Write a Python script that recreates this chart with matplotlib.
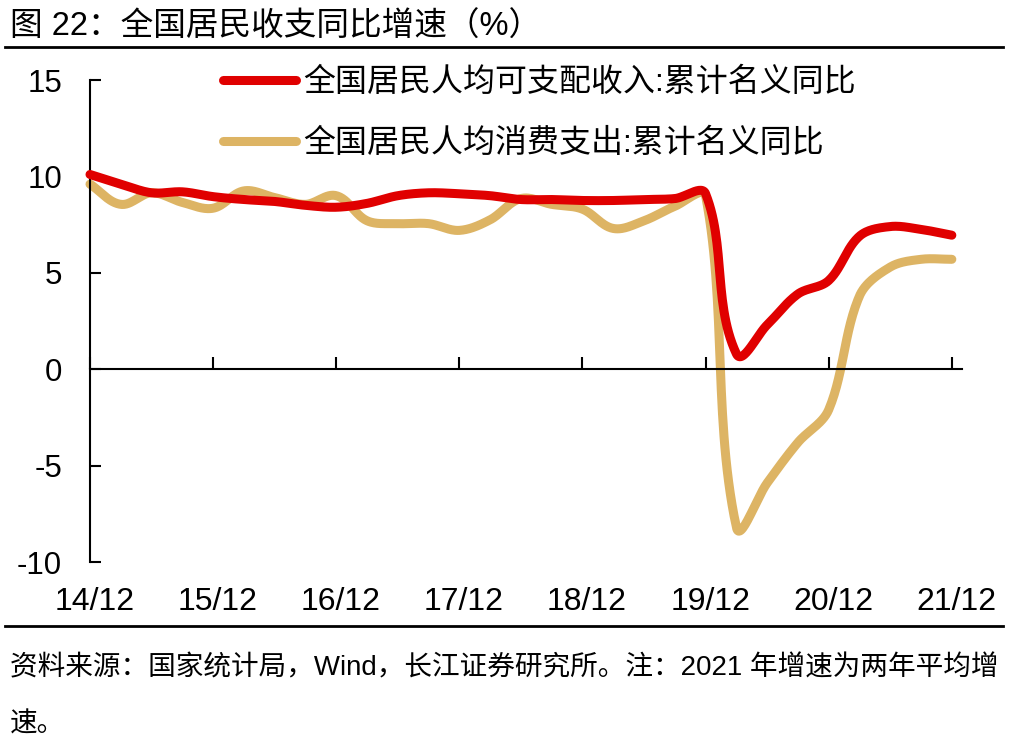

# ===========================================================================
# =                            Imports
# ===========================================================================
import numpy as np
import matplotlib
matplotlib.use("Agg")
import matplotlib.pyplot as plt
from matplotlib.lines import Line2D

plt.rcParams['font.family'] = ['Liberation Sans', 'Noto Sans CJK SC', 'DejaVu Sans']
plt.rcParams['axes.unicode_minus'] = False

# ===========================================================================
# =                              Data
# ===========================================================================
# Trimestral, de 14/12 a 21/12 (29 puntos)
tick_labels = ['14/12', '15/12', '16/12', '17/12', '18/12', '19/12', '20/12', '21/12']

ingreso = [10.1, 9.6, 9.15, 9.2, 8.95,
           8.8, 8.7, 8.5, 8.4,
           8.6, 9.0, 9.15, 9.1,
           9.0, 8.8, 8.8, 8.75,
           8.75, 8.8, 8.85, 9.1,
           0.8, 2.3, 3.9, 4.6,
           6.9, 7.4, 7.25, 6.95]

consumo = [9.6, 8.55, 9.15, 8.65, 8.35,
           9.25, 8.9, 8.55, 9.0,
           7.7, 7.55, 7.55, 7.2,
           7.75, 8.85, 8.55, 8.3,
           7.3, 7.7, 8.45, 9.0,
           -8.2, -5.9, -3.8, -2.1,
           3.8, 5.3, 5.7, 5.7]

nombre_ingreso = '全国居民人均可支配收入:累计名义同比'
nombre_consumo = '全国居民人均消费支出:累计名义同比'

titulo = '图 22：全国居民收支同比增速（%）'
fuente_1 = '资料来源：国家统计局，Wind，长江证券研究所。注：2021 年增速为两年平均增'
fuente_2 = '速。'


# ===========================================================================
# =                              Functions
# ===========================================================================
def suavizar(xs, ys, sx, sy, n=30):
    """Curva suavizada tipo Excel: Bezier por tramos, calculada en pixeles."""
    p = np.column_stack([np.asarray(xs, float) * sx, np.asarray(ys, float) * sy])
    m = len(p)
    tang = np.zeros_like(p)
    for i in range(m):
        v = p[min(i + 1, m - 1)] - p[max(i - 1, 0)]
        tang[i] = v / np.linalg.norm(v)
    t = np.linspace(0, 1, n)[:, None]
    tramos = []
    for i in range(m - 1):
        d = np.linalg.norm(p[i + 1] - p[i])
        c1 = p[i] + tang[i] * d / 3
        c2 = p[i + 1] - tang[i + 1] * d / 3
        b = ((1 - t) ** 3) * p[i] + 3 * ((1 - t) ** 2) * t * c1 \
            + 3 * (1 - t) * t ** 2 * c2 + t ** 3 * p[i + 1]
        tramos.append(b if i == 0 else b[1:])
    curva = np.vstack(tramos)
    return curva[:, 0] / sx, curva[:, 1] / sy


W, H = 1017, 749
fig = plt.figure(figsize=(W / 100, H / 100), dpi=100)
ax_w, ax_h = 872, 482
ax = fig.add_axes([90 / W, 1 - 562 / H, ax_w / W, ax_h / H])

xlim = (0, 28.33)
ylim = (-10, 15)
ax.set_xlim(*xlim)
ax.set_ylim(*ylim)
sx = ax_w / (xlim[1] - xlim[0])
sy = ax_h / (ylim[1] - ylim[0])

x = np.arange(len(ingreso))
rojo = '#E00000'
dorado = '#DDB464'
lw = 6.5

xs, ys = suavizar(x, ingreso, sx, sy)
ax.plot(xs, ys, color=rojo, lw=lw, solid_capstyle='round', clip_on=False, zorder=3,
        label=nombre_ingreso)
xs, ys = suavizar(x, consumo, sx, sy)
ax.plot(xs, ys, color=dorado, lw=lw, solid_capstyle='round', clip_on=False, zorder=2,
        label=nombre_consumo)

# Ejes
for s in ['top', 'right']:
    ax.spines[s].set_visible(False)
ax.spines['left'].set_linewidth(1.5)
ax.spines['bottom'].set_linewidth(1.5)
ax.spines['bottom'].set_position(('data', 0))

ax.set_yticks([-10, -5, 0, 5, 10, 15])
ax.tick_params(axis='y', direction='in', length=8, width=1.5, labelsize=22.5, pad=20)

ticks_x = np.arange(0, len(ingreso), 4)
ax.set_xticks(ticks_x)
ax.tick_params(axis='x', direction='in', length=9, width=1.5, labelbottom=False)
for pos, lab in zip(ticks_x, tick_labels):
    ax.text(pos + 0.15, -0.083, lab, transform=ax.get_xaxis_transform(),
            ha='center', va='center', fontsize=23)

# Leyenda
fig.legend(loc='upper left', bbox_to_anchor=(223 / W, 1 - 68 / H), frameon=False,
           prop={'size': 23}, handlelength=2.3, handletextpad=0.22, labelspacing=0.95,
           borderpad=0, borderaxespad=0)

# Título y fuente
fig.text(10 / W, 1 - 27 / H, titulo, fontsize=23.5, va='center', ha='left')
fig.add_artist(Line2D([5 / W, 1003 / W], [1 - 47 / H] * 2, color='black', lw=2))
fig.add_artist(Line2D([5 / W, 1003 / W], [1 - 626 / H] * 2, color='black', lw=2))
fig.text(10 / W, 1 - 668 / H, fuente_1, fontsize=19.9, va='center', ha='left')
fig.text(10 / W, 1 - 725 / H, fuente_2, fontsize=19.9, va='center', ha='left')

fig.savefig('out.png', dpi=100)
